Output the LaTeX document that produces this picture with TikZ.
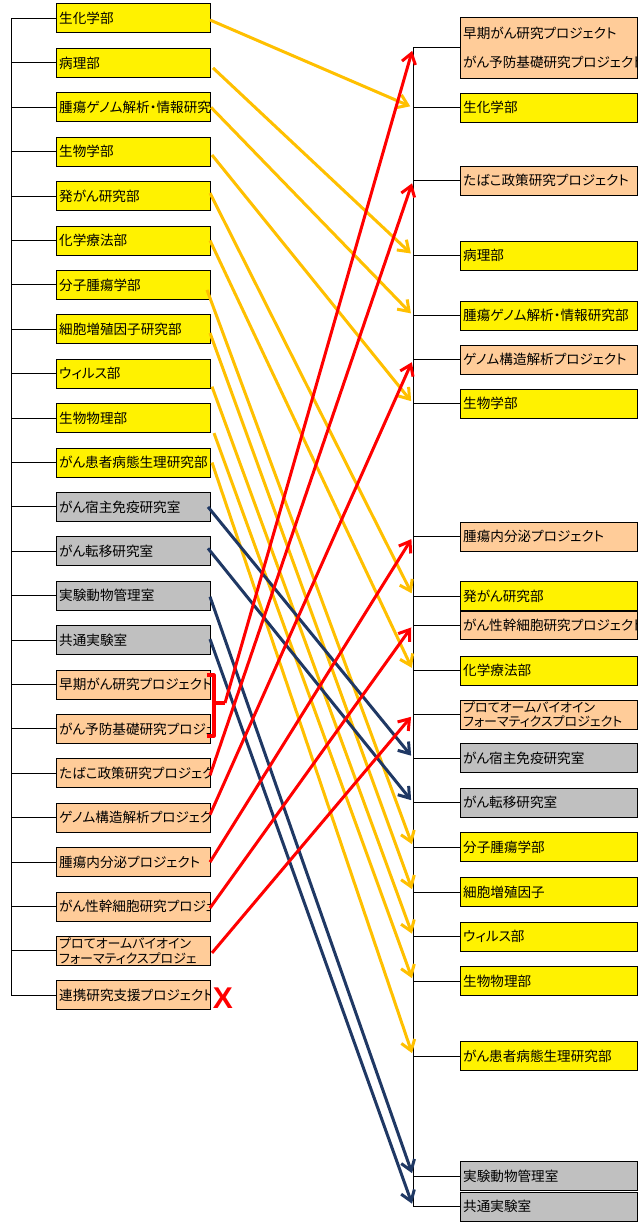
\documentclass[tikz,border=0pt]{standalone}
\usepackage{fontspec}
\newfontfamily\cjk{Noto Sans CJK JP}[RawFeature=+palt]
\newfontfamily\xfont{Liberation Sans}
\usetikzlibrary{arrows.meta}
\definecolor{cyel}{RGB}{255,242,0}
\definecolor{corange}{RGB}{255,204,153}
\definecolor{cgrey}{RGB}{192,192,192}
\definecolor{ayel}{RGB}{255,192,0}
\definecolor{anavy}{RGB}{31,56,100}
\definecolor{ared}{RGB}{255,0,0}
\tikzset{
  cell/.style={draw=black, line width=1pt, minimum height=29pt, inner sep=0pt, outer sep=0pt},
  lcell/.style={cell, minimum width=154pt},
  rcell/.style={cell, minimum width=177pt},
  ycell/.style={fill=cyel},
  ocell/.style={fill=corange},
  gcell/.style={fill=cgrey},
  celltext/.style={anchor=west, inner sep=2pt, align=left, font=\cjk\fontsize{13.6}{16}\selectfont},
  smalltext/.style={font=\cjk\fontsize{13}{14.5}\selectfont},
  tree/.style={line width=1pt, draw=black},
  conn/.style={line width=3pt, shorten >=3pt, -{Straight Barb[length=10pt,width=14pt]}},
  yconn/.style={conn, draw=ayel},
  nconn/.style={conn, draw=anavy},
  rconn/.style={conn, draw=ared},
  brace/.style={line width=3.2pt, draw=ared, line join=round},
}
\newcommand\cellbox[6]{% name, style, x, y, text style, text
  \node[#2] (#1) at (#3,#4) {};
  \begin{scope}
    \clip ([xshift=0.5pt,yshift=0.5pt]#1.south west) rectangle ([xshift=-0.5pt,yshift=-0.5pt]#1.north east);
    \node[celltext,#5] (#1t) at ([xshift=1pt]#1.west) {#6};
  \end{scope}}
\begin{document}
\begin{tikzpicture}[x=1pt,y=-1pt]
\useasboundingbox[fill=white] (0,0) rectangle (638,1223);
% ---------- left column ----------
\cellbox{L1}{lcell,ycell}{133}{18.5}{}{生化学部}
\cellbox{L2}{lcell,ycell}{133}{62.9}{}{病理部}
\cellbox{L3}{lcell,ycell}{133}{107.3}{}{腫瘍ゲノム解析・情報研究}
\cellbox{L4}{lcell,ycell}{133}{151.7}{}{生物学部}
\cellbox{L5}{lcell,ycell}{133}{196.1}{}{発がん研究部}
\cellbox{L6}{lcell,ycell}{133}{240.5}{}{化学療法部}
\cellbox{L7}{lcell,ycell}{133}{284.9}{}{分子腫瘍学部}
\cellbox{L8}{lcell,ycell}{133}{329.3}{}{細胞増殖因子研究部}
\cellbox{L9}{lcell,ycell}{133}{373.7}{}{ウィルス部}
\cellbox{L10}{lcell,ycell}{133}{418.1}{}{生物物理部}
\cellbox{L11}{lcell,ycell}{133}{462.5}{}{がん患者病態生理研究部}
\cellbox{L12}{lcell,gcell}{133}{506.9}{}{がん宿主免疫研究室}
\cellbox{L13}{lcell,gcell}{133}{551.3}{}{がん転移研究室}
\cellbox{L14}{lcell,gcell}{133}{595.7}{}{実験動物管理室}
\cellbox{L15}{lcell,gcell}{133}{640.1}{}{共通実験室}
\cellbox{L16}{lcell,ocell}{133}{684.5}{}{早期がん研究プロジェクト}
\cellbox{L17}{lcell,ocell}{133}{728.9}{}{がん予防基礎研究プロジェ}
\cellbox{L18}{lcell,ocell}{133}{773.3}{}{たばこ政策研究プロジェク}
\cellbox{L19}{lcell,ocell}{133}{817.7}{}{ゲノム構造解析プロジェク}
\cellbox{L20}{lcell,ocell}{133}{862.1}{}{腫瘍内分泌プロジェクト}
\cellbox{L21}{lcell,ocell}{133}{906.5}{}{がん性幹細胞研究プロジェ}
\cellbox{L22}{lcell,ocell}{133}{950.9}{smalltext}{プロてオームバイオイン\\フォーマティクスプロジェ}
\cellbox{L23}{lcell,ocell}{133}{995.3}{}{連携研究支援プロジェクト}
% left tree
\coordinate (ltop) at (11,18.5);
\coordinate (lbot) at (11,995.3);
\draw[tree] (ltop) -- (lbot);
\foreach \k in {1,...,23} {\draw[tree] (L\k.west) -- (L\k.west -| ltop);}
% ---------- right column ----------
\cellbox{R1}{rcell,ocell,minimum height=60pt}{548.5}{48}{}{早期がん研究プロジェクト\\[13pt]がん予防基礎研究プロジェクト}
\cellbox{R2}{rcell,ycell}{548.5}{107.5}{}{生化学部}
\cellbox{R3}{rcell,ocell}{548.5}{180.5}{}{たばこ政策研究プロジェクト}
\cellbox{R4}{rcell,ycell}{548.5}{255.5}{}{病理部}
\cellbox{R5}{rcell,ycell}{548.5}{315.5}{}{腫瘍ゲノム解析・情報研究部}
\cellbox{R6}{rcell,ocell}{548.5}{359.5}{}{ゲノム構造解析プロジェクト}
\cellbox{R7}{rcell,ycell}{548.5}{403.5}{}{生物学部}
\cellbox{R8}{rcell,ocell}{548.5}{536.5}{}{腫瘍内分泌プロジェクト}
\cellbox{R9}{rcell,ycell}{548.5}{596}{}{発がん研究部}
\cellbox{R10}{rcell,ocell,minimum height=28pt}{548.5}{625}{}{がん性幹細胞研究プロジェクト}
\cellbox{R11}{rcell,ycell}{548.5}{670.5}{}{化学療法部}
\cellbox{R12}{rcell,ocell}{548.5}{714.5}{smalltext}{プロてオームバイオイン\\フォーマティクスプロジェクト}
\cellbox{R13}{rcell,gcell}{548.5}{758}{}{がん宿主免疫研究室}
\cellbox{R14}{rcell,gcell}{548.5}{802.5}{}{がん転移研究室}
\cellbox{R15}{rcell,ycell}{548.5}{847}{}{分子腫瘍学部}
\cellbox{R16}{rcell,ycell}{548.5}{892}{}{細胞増殖因子}
\cellbox{R17}{rcell,ycell}{548.5}{936.5}{}{ウィルス部}
\cellbox{R18}{rcell,ycell}{548.5}{981}{}{生物物理部}
\cellbox{R19}{rcell,ycell}{548.5}{1056}{}{がん患者病態生理研究部}
\cellbox{R20}{rcell,gcell}{548.5}{1176}{}{実験動物管理室}
\cellbox{R21}{rcell,gcell}{548.5}{1206.5}{}{共通実験室}
% right tree
\coordinate (rtop) at (413,48);
\coordinate (rbot) at (413,1206.5);
\draw[tree] (rtop) -- (rbot);
\foreach \k in {1,...,21} {\draw[tree] (R\k.west) -- (R\k.west -| rtop);}
% ---------- bracket and X ----------
\coordinate (brt) at (207,675);
\coordinate (brb) at (207,736);
\coordinate (brk) at (225,703);
\draw[brace] (brt) -- (214,675) -- (214,736) -- (brb);
\draw[brace] (214,703) -- (brk);
\node[font=\xfont\bfseries\fontsize{30}{32}\selectfont, text=ared, inner sep=0pt] (xmark) at (223,998) {X};
% ---------- yellow arrows ----------
\draw[yconn] ([yshift=-1.5pt]L1.east) -- (R2.west -| rtop);
\draw[yconn] ([xshift=3pt,yshift=-5pt]L2.east) -- (R4.west -| rtop);
\draw[yconn] ([xshift=1pt]L3.east) -- (R5.west -| rtop);
\draw[yconn] ([xshift=2pt,yshift=-3.3pt]L4.east) -- (R7.west -| rtop);
\draw[yconn] ([yshift=3pt]L5.east) -- (R9.west -| rtop);
\draw[yconn] (L6.east) -- (R11.west -| rtop);
\draw[yconn] ([xshift=-3pt,yshift=-5pt]L7.east) -- (R15.west -| rtop);
\draw[yconn] ([yshift=-3.7pt]L8.east) -- (R16.west -| rtop);
\draw[yconn] ([xshift=2pt,yshift=-13pt]L9.east) -- (R17.west -| rtop);
\draw[yconn] ([xshift=4pt,yshift=-15pt]L10.east) -- (R18.west -| rtop);
\draw[yconn] ([xshift=2pt]L11.east) -- (R19.west -| rtop);
% ---------- navy arrows ----------
\draw[nconn] ([xshift=-2pt]L12.east) -- (R13.west -| rtop);
\draw[nconn] ([xshift=-2pt,yshift=3pt]L13.east) -- (R14.west -| rtop);
\draw[nconn] ([yshift=-1pt]L14.east) -- (R20.west -| rtop);
\draw[nconn] ([yshift=1pt]L15.east) -- (R21.west -| rtop);
% ---------- red arrows ----------
\draw[rconn] (brk) -- (R1.west -| rtop);
\draw[rconn] ([yshift=-2pt]L18.east) -- (R3.west -| rtop);
\draw[rconn] ([yshift=3pt]L19.east) -- (R6.west -| rtop);
\draw[rconn] (L20.east) -- (R8.west -| rtop);
\draw[rconn] ([yshift=-1.5pt]L21.east) -- (R10.west -| rtop);
\draw[rconn] ([xshift=2pt,yshift=-2pt]L22.east) -- (R12.west -| rtop);
\end{tikzpicture}
\end{document}
